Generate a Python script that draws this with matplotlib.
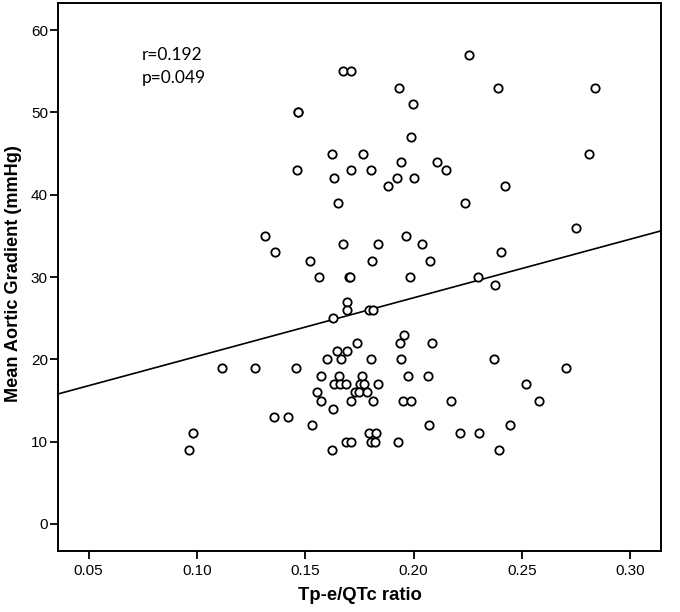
import numpy as np
import matplotlib
matplotlib.use("Agg")
import matplotlib.pyplot as plt

# Tp-e/QTc ratio vs mean aortic gradient
tpe_qtc = [
    0.2254, 0.1674, 0.1712, 0.1934, 0.2390, 0.2838, 0.1996, 0.1466, 0.1466,
    0.1986, 0.1622, 0.1768, 0.2810, 0.1942, 0.2108, 0.1464, 0.1710, 0.1804,
    0.2152, 0.1634, 0.1922, 0.2004, 0.1884, 0.2420, 0.1650, 0.2238, 0.2752,
    0.1314, 0.1964, 0.1360, 0.2404, 0.1674, 0.1838, 0.2040, 0.1524, 0.1808,
    0.2078, 0.1563, 0.1704, 0.1708, 0.1985, 0.2296, 0.2376, 0.1691, 0.1691,
    0.1794, 0.1811, 0.1628, 0.1956, 0.1737, 0.1937, 0.2084, 0.1648, 0.1694,
    0.1602, 0.1663, 0.1805, 0.1940, 0.2372, 0.1116, 0.1270, 0.1458, 0.2704,
    0.1571, 0.1655, 0.1763, 0.1976, 0.2065, 0.1632, 0.1660, 0.1688, 0.1752,
    0.1771, 0.1837, 0.2518, 0.1552, 0.1728, 0.1750, 0.1787, 0.1571, 0.1710,
    0.1811, 0.1950, 0.1987, 0.2173, 0.2578, 0.1629, 0.1354, 0.1420, 0.1532,
    0.2071, 0.2444, 0.0984, 0.1794, 0.1825, 0.2213, 0.2301, 0.1689, 0.1709,
    0.1805, 0.1820, 0.1928, 0.0964, 0.1622, 0.2395,
]
gradient = [
    57, 55, 55, 53, 53, 53, 51, 50, 50,
    47, 45, 45, 45, 44, 44, 43, 43, 43,
    43, 42, 42, 42, 41, 41, 39, 39, 36,
    35, 35, 33, 33, 34, 34, 34, 32, 32,
    32, 30, 30, 30, 30, 30, 29, 27, 26,
    26, 26, 25, 23, 22, 22, 22, 21, 21,
    20, 20, 20, 20, 20, 19, 19, 19, 19,
    18, 18, 18, 18, 18, 17, 17, 17, 17,
    17, 17, 17, 16, 16, 16, 16, 15, 15,
    15, 15, 15, 15, 15, 14, 13, 13, 12,
    12, 12, 11, 11, 11, 11, 11, 10, 10,
    10, 10, 10, 9, 9, 9,
]
stats_lines = ["r=0.192", "p=0.049"]

x = np.array(tpe_qtc)
y = np.array(gradient)

fig = plt.figure(figsize=(6.8, 6.12), dpi=100)
ax = fig.add_axes([0.0857, 0.0997, 0.8866, 0.8949])

ax.scatter(x, y, s=36, facecolors="white", edgecolors="black", linewidths=1.3, zorder=3)

# linear fit line across the whole axis
slope, intercept = np.polyfit(x, y, 1)
xlim = (0.036, 0.3143)
xs = np.array(xlim)
ax.plot(xs, intercept + slope * xs, color="black", linewidth=1.2, zorder=2)

ax.set_xlim(*xlim)
ax.set_ylim(-3.28, 63.25)
ax.set_xticks([0.05, 0.10, 0.15, 0.20, 0.25, 0.30])
ax.set_xticklabels(["0.05", "0.10", "0.15", "0.20", "0.25", "0.30"])
ax.set_yticks([0, 10, 20, 30, 40, 50, 60])

tick_font = ["Liberation Sans", "DejaVu Sans"]
for lab in ax.get_xticklabels() + ax.get_yticklabels():
    lab.set_family(tick_font)
    lab.set_fontsize(11)
ax.tick_params(direction="out", length=5.5, width=1.3, pad=2)
ax.tick_params(axis="x", pad=4)
for sp in ax.spines.values():
    sp.set_linewidth(1.4)

ax.set_xlabel("Tp-e/QTc ratio", fontsize=13.3, fontweight="bold", family=tick_font)
ax.set_ylabel("Mean Aortic Gradient (mmHg)", fontsize=13.1, fontweight="bold", family=tick_font)
ax.xaxis.set_label_coords(0.5, -0.066)
ax.yaxis.set_label_coords(-0.060, 0.506)

for i, line in enumerate(stats_lines):
    ax.text(0.0747, 56.4 - 2.85 * i, line, fontsize=12.5, family=["Lato", "DejaVu Sans"],
            va="baseline", ha="left")

fig.savefig("out.png", dpi=100)
